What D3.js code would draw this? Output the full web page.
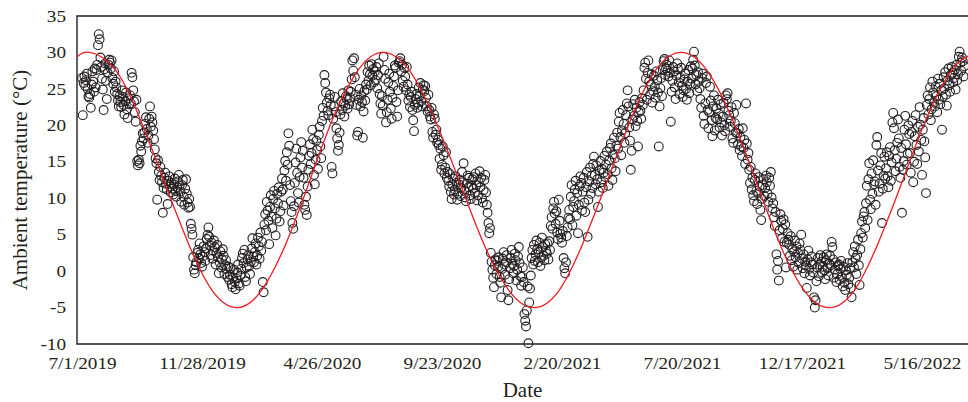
<!DOCTYPE html>
<html>
	<head>
		<meta charset="utf-8">
		<title></title>
		<style type="text/css">
			body{ margin: 0; background: #fff; }
			svg text{ font-family: "Liberation Serif", "Times New Roman", serif; fill: #231f20; }
		</style>
	</head>
	<body>
		<div id="svgCon"></div>
		<script src="https://d3js.org/d3.v7.min.js"></script>
		<script>
		// daily ambient temperature (°C), each array starts on the 1st of its first month
		let t2019b = [ // Jul-Dec 2019
			26.5,21.4,25.8,26.7,25.4,26.2,27.1,25.0,24.0,23.8,24.3,22.4,25.6,27.4,26.0,24.6,27.8,25.2,27.6,28.3,31.0,32.5,31.8,29.3,28.0,26.4,24.9,22.1,27.7,28.5,26.1,
			23.6,27.2,28.3,29.0,28.6,27.8,28.9,26.5,25.7,27.4,24.6,26.0,25.2,24.3,23.4,22.6,24.0,23.2,22.5,24.8,23.9,22.8,21.5,23.3,24.5,22.2,21.0,23.7,22.9,24.1,23.0,
			27.2,26.6,24.8,23.3,21.8,20.5,23.5,15.1,14.5,15.3,14.8,17.2,16.4,17.8,18.9,18.2,19.0,20.2,21.1,19.5,17.6,18.6,20.9,22.6,19.8,21.2,20.4,19.3,18.1,16.7,
			15.5,14.8,9.8,15.2,13.6,12.5,14.3,13.1,12.2,8.0,11.4,12.8,13.5,12.0,11.2,9.2,12.4,13.0,11.6,10.8,12.1,11.3,10.5,11.9,12.7,11.0,10.2,11.5,12.3,13.2,11.7,
			10.9,9.5,11.8,12.5,10.2,9.1,11.3,12.6,10.6,9.4,8.7,9.9,8.8,6.5,5.8,5.0,1.9,0.2,-0.3,0.8,1.2,2.5,2.9,1.8,3.8,2.3,1.1,0.6,2.0,3.4,
			2.6,1.4,3.1,4.4,5.0,6.0,4.7,3.5,2.2,3.9,1.7,2.8,4.2,3.3,0.9,2.5,3.6,1.9,-0.3,1.2,2.7,0.5,1.6,3.0,2.1,-0.4,0.8,1.5,0.3,-0.8,0.6
		];
		let t2020a = [ // Jan-Jun 2020
			-1.2,-0.5,0.4,-1.8,-2.2,-0.9,0.2,-1.5,-2.5,-1.0,-0.2,0.9,-1.7,-2.0,-0.6,0.3,1.8,2.4,1.1,2.9,-0.8,-1.4,0.5,1.6,2.2,0.7,-0.4,1.3,3.1,4.5,2.0,
			1.2,2.6,3.8,0.9,2.1,4.6,3.4,1.7,5.3,2.8,4.0,-1.5,-2.9,6.4,7.8,5.6,9.5,8.3,6.9,3.7,8.8,10.4,7.5,5.9,9.9,11.0,8.6,4.9,7.2,
			10.6,9.3,11.5,6.8,8.2,10.9,12.7,11.2,9.0,13.8,15.1,12.4,16.3,14.6,18.9,17.2,11.8,9.6,8.1,6.6,5.8,8.9,12.1,14.9,16.8,13.5,10.7,9.4,12.9,15.6,17.7,
			14.2,16.5,12.8,9.1,8.4,10.2,7.7,11.6,13.9,15.8,17.4,14.7,16.2,19.4,18.1,13.2,11.9,15.3,17.9,16.6,14.0,18.7,19.8,17.1,15.5,20.6,22.4,21.3,26.9,25.8,
			24.5,23.1,22.0,21.4,23.7,24.2,22.8,14.3,13.4,20.9,22.6,23.9,21.8,19.6,18.2,16.5,17.3,19.0,21.5,23.3,22.1,24.4,23.0,21.2,22.7,24.0,23.6,22.3,24.8,22.9,23.8,
			24.6,26.3,28.9,27.5,29.2,26.6,24.2,22.8,18.6,19.1,23.5,25.0,22.6,24.1,23.2,18.3,21.9,24.7,23.4,25.6,24.9,27.3,26.1,28.2,27.0,25.5,28.4,26.8,27.7,25.9
		];
		let t2020b = [ // Jul-Dec 2020
			27.4,26.2,28.0,25.1,26.9,28.5,24.3,23.0,21.6,24.0,22.7,29.4,27.6,26.4,20.4,21.8,23.5,25.9,27.1,24.6,22.3,20.9,23.8,25.4,26.7,28.2,27.9,23.2,21.2,24.8,28.6,
			28.8,29.2,27.4,28.3,26.1,25.3,27.9,26.7,24.8,28.0,25.6,23.4,24.2,22.5,23.9,24.6,22.1,20.7,19.2,22.8,23.6,24.3,22.4,23.1,25.2,24.0,25.8,23.3,22.6,24.9,25.5,
			24.7,25.4,23.8,22.6,21.9,24.2,22.1,21.2,20.8,22.4,19.1,18.3,21.5,20.9,18.7,19.4,17.6,18.0,17.3,15.4,16.8,13.9,14.6,17.1,15.9,13.4,14.2,16.3,12.8,13.6,
			12.4,11.6,13.3,10.9,9.9,11.8,12.7,10.5,11.2,13.0,12.1,9.8,10.6,11.9,12.5,10.3,11.4,13.6,12.2,14.8,11.0,10.1,9.6,12.0,13.1,11.5,12.8,10.4,9.9,11.7,12.6,
			11.3,12.9,10.7,13.4,11.8,9.7,10.4,12.2,13.7,11.5,12.8,10.0,9.4,11.1,12.5,13.2,10.8,9.1,8.0,6.6,5.2,5.9,2.5,1.3,0.2,-0.9,-2.2,0.8,1.6,-0.4,
			1.4,0.6,1.9,-0.8,-1.6,-3.6,0.3,1.7,2.6,0.9,-0.5,1.2,2.2,-2.6,-4.0,-1.1,0.4,1.8,2.9,1.0,-0.3,0.7,2.4,1.5,-1.3,0.2,2.0,3.3,1.1,-0.7,-2.0
		];
		let t2021a = [ // Jan-Jun 2021
			-0.8,0.5,-1.5,-5.9,-6.8,-7.6,-5.4,-2.1,-9.9,-4.3,-2.4,-0.6,1.8,2.9,0.9,3.6,1.4,2.3,4.2,3.0,1.2,2.6,3.9,0.7,1.9,4.6,3.3,2.1,1.5,3.7,2.8,
			2.4,3.8,1.6,4.1,2.9,6.2,7.4,5.8,8.6,9.5,7.9,6.5,8.2,5.3,4.4,9.8,6.9,5.1,4.6,3.9,5.5,1.8,0.4,-0.3,1.2,4.8,6.0,7.3,
			8.4,7.1,10.2,11.8,6.3,8.8,9.6,11.2,12.4,7.6,10.7,5.2,9.1,11.6,13.0,12.1,8.3,10.9,12.8,9.4,8.1,11.5,13.6,4.7,9.8,12.3,14.2,10.6,13.1,11.4,14.7,
			15.7,13.2,11.9,14.5,12.6,8.8,10.9,13.8,15.1,12.2,14.0,11.4,13.5,15.8,12.9,14.6,16.4,13.3,11.7,15.2,16.9,17.5,14.1,12.5,16.0,18.3,15.5,13.7,17.2,19.0,
			16.8,20.5,21.7,18.4,15.9,19.3,22.1,20.2,17.6,18.9,21.4,23.0,24.8,22.6,19.7,17.9,13.9,16.5,20.8,22.9,21.3,23.5,19.9,22.4,20.6,17.1,21.8,23.2,22.0,20.9,23.7,
			22.8,24.8,27.9,28.6,26.4,23.5,27.2,28.9,26.0,24.2,25.6,27.0,23.1,24.7,26.8,25.3,23.8,27.4,26.2,24.5,17.1,22.6,25.1,26.5,24.0,27.6,28.8,29.1,26.9,27.8
		];
		let t2021b = [ // Jul-Dec 2021
			28.3,27.5,26.7,28.9,27.2,20.5,24.6,26.1,28.0,27.4,25.2,23.6,26.8,28.5,27.7,25.9,24.3,26.5,27.9,25.4,23.9,24.8,26.3,27.1,25.0,23.5,26.0,27.6,24.4,25.7,28.1,
			26.4,27.8,29.0,30.1,28.2,25.6,26.9,24.7,27.3,26.0,25.1,23.6,22.4,26.5,27.1,21.3,20.2,23.0,25.8,26.7,22.1,19.6,21.8,25.3,23.4,20.7,18.5,22.6,24.1,19.3,21.0,
			22.3,20.8,23.5,21.6,19.7,22.9,20.4,18.6,21.2,23.1,20.0,19.2,24.1,23.6,24.4,22.0,21.4,19.8,20.6,22.5,18.2,17.6,21.7,20.3,19.0,22.8,18.9,17.4,19.5,16.6,
			18.4,17.1,15.8,19.6,16.9,18.0,14.7,23.0,17.5,15.3,16.2,13.9,12.1,14.3,11.2,12.8,10.4,9.6,12.5,13.4,11.0,9.2,10.7,12.9,11.6,8.4,7.0,9.9,11.8,12.6,10.3,
			11.4,13.1,12.2,10.6,9.5,12.8,11.7,13.6,10.1,8.6,9.3,7.4,6.2,8.1,2.3,0.2,1.4,-1.3,5.6,7.8,6.9,4.5,5.8,7.1,4.0,6.4,0.5,3.9,5.2,4.3,
			3.6,2.1,4.8,1.5,3.0,0.6,2.7,4.2,1.9,3.4,0.2,2.5,1.1,3.8,2.9,5.0,1.7,0.4,2.3,-0.3,1.3,0.8,-2.3,1.6,2.8,0.3,-0.6,1.2,2.0,0.9,-0.2
		];
		let t2022a = [ // Jan-early Jul 2022
			-3.6,-5.0,-4.0,-1.4,0.5,1.8,-0.7,0.9,2.2,1.3,-0.2,0.6,1.9,0.1,-1.1,1.5,2.3,0.4,-0.6,1.0,2.1,0.8,4.0,3.3,1.6,-0.9,0.2,1.2,-1.5,-0.4,0.7,
			0.9,-1.2,0.3,1.4,-0.8,-2.1,0.6,-1.6,-2.6,0.1,-0.5,1.1,-1.8,-0.9,0.4,-2.3,-3.6,1.2,2.6,0.5,3.4,1.8,-0.4,2.2,4.3,0.8,-1.9,3.0,
			5.2,6.8,4.6,7.5,8.1,5.9,9.3,11.7,7.0,12.6,14.8,9.8,8.5,13.4,10.6,15.2,11.9,12.3,9.1,17.3,18.4,13.8,10.9,12.0,14.5,16.2,6.6,11.3,13.1,15.7,12.7,
			14.1,16.3,13.0,11.5,15.8,17.0,12.4,14.9,20.4,21.7,19.6,16.6,13.7,15.4,17.6,20.8,18.2,14.3,12.8,16.9,8.0,13.9,15.1,19.4,21.3,17.4,14.6,16.1,20.0,18.8,
			16.2,13.5,19.1,20.6,12.2,15.0,18.5,21.4,17.3,14.7,19.8,16.4,22.5,20.1,18.0,13.2,19.4,21.0,17.8,15.6,10.7,22.8,24.1,21.5,23.6,25.2,20.7,22.2,26.0,24.5,23.1,
			22.6,25.3,24.0,21.8,26.4,23.5,25.7,22.9,24.8,19.4,23.9,26.6,25.1,27.3,24.2,22.7,26.1,27.8,25.5,24.6,26.9,28.0,27.2,25.9,26.5,27.6,24.9,28.3,26.2,27.0,
			29.4,30.1,28.6,27.5,29.3,28.8,26.7,28.1
		];
		let seriesStarts = [[2019,6],[2020,0],[2020,6],[2021,0],[2021,6],[2022,0]];

		// red fitted curve (days after 7/1/2019)
		let fitDays  = [-6,10,41,71,102,133,163,194,224,255,285,315,346,376,408,439,471,502,534,565,596,626,657,688,718,749,780,811,842,872,903,934,965,995,1026,1057,1088,1108];
		let fitTemps = [29.4,30,27.7,21.3,12.5,3.8,-2.7,-5,-2.7,3.8,12.5,21.3,27.7,30,27.7,21.3,12.5,3.8,-2.7,-5,-2.7,3.8,12.5,21.3,27.7,30,27.7,21.3,12.5,3.8,-2.7,-5,-2.7,3.8,12.5,21.3,27.7,29.5];

		let xTickLabels = ["7/1/2019","11/28/2019","4/26/2020","9/23/2020","2/20/2021","7/20/2021","12/17/2021","5/16/2022"];
		let yTicks = [-10,-5,0,5,10,15,20,25,30,35];

		let w = 968, h = 402;
		let pLeft = 77, pRight = 968, pTop = 16, pBottom = 344;
		let dayMs = 864e5;
		let start = Date.UTC(2019, 6, 1);

		let svg = d3.select("#svgCon").append("svg")
			.attr("width", w)
			.attr("height", h);

		let x = d3.scaleUtc()
			.domain([new Date(start - 6.25*dayMs), new Date(start + 1107.5*dayMs)])
			.range([pLeft, pRight]);
		let y = d3.scaleLinear()
			.domain([-10, 35])
			.range([pBottom, pTop]);

		let allSeries = [t2019b, t2020a, t2020b, t2021a, t2021b, t2022a];
		let points = [];
		allSeries.forEach(function(s, k){
			s.forEach(function(v, i){
				points.push({ date: new Date(Date.UTC(seriesStarts[k][0], seriesStarts[k][1], 1 + i)), t: v });
			});
		});

		// axes (labels only, lines drawn below)
		let parse = d3.utcParse("%m/%d/%Y");
		let xAxis = d3.axisBottom(x)
			.tickValues(xTickLabels.map(parse))
			.tickFormat(function(d, i){ return xTickLabels[i]; })
			.tickSize(0);
		let gx = svg.append("g")
			.attr("transform", "translate(0," + pBottom + ")")
			.call(xAxis);
		gx.select(".domain").remove();
		gx.selectAll("text")
			.attr("y", 25)
			.attr("dy", null)
			.attr("font-size", "16px")
			.attr("transform", "scale(1.2,1)")
			.attr("fill", "#231f20");

		let yAxis = d3.axisLeft(y)
			.tickValues(yTicks)
			.tickFormat(function(d){ return String(d); })
			.tickSize(0);
		let gy = svg.append("g")
			.attr("transform", "translate(" + pLeft + ",0)")
			.call(yAxis);
		gy.select(".domain").remove();
		gy.selectAll("text")
			.attr("x", -11/1.2)
			.attr("font-size", "16px")
			.attr("transform", "scale(1.2,1)")
			.attr("fill", "#231f20");
		svg.selectAll(".tick text").style("font-family", "'Liberation Serif', 'Times New Roman', serif");

		// frame
		svg.append("path")
			.attr("d", "M" + pRight + "," + pTop + "H" + pLeft + "V" + pBottom + "H" + pRight)
			.attr("fill", "none")
			.attr("stroke", "#231f20")
			.attr("stroke-width", 1.4);

		svg.append("g")
			.selectAll("circle")
			.data(points)
			.enter()
			.append("circle")
			.attr("cx", function(d){ return x(d.date); })
			.attr("cy", function(d){ return y(d.t); })
			.attr("r", 4.4)
			.attr("fill", "none")
			.attr("stroke", "#231f20")
			.attr("stroke-width", 1.1);

		let fit = fitDays.map(function(d, i){ return [new Date(start + d*dayMs), fitTemps[i]]; });
		let line = d3.line()
			.x(function(d){ return x(d[0]); })
			.y(function(d){ return y(d[1]); })
			.curve(d3.curveNatural);
		svg.append("path")
			.datum(fit)
			.attr("d", line)
			.attr("fill", "none")
			.attr("stroke", "#ed1c24")
			.attr("stroke-width", 1.3);

		svg.append("text")
			.attr("x", (pLeft + pRight)/2)
			.attr("y", 397)
			.attr("text-anchor", "middle")
			.attr("font-size", "21px")
			.text("Date");

		svg.append("text")
			.attr("transform", "translate(27," + (pTop + pBottom)/2 + ") rotate(-90)")
			.attr("text-anchor", "middle")
			.attr("font-size", "21px")
			.text("Ambient temperature (°C)");
		</script>
	</body>
</html>
